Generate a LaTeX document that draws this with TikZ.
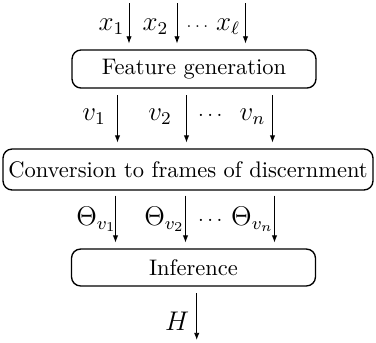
\documentclass[tikz,border=0pt]{standalone}
\usepackage{amsmath}
\usepackage{tikz}
\usetikzlibrary{arrows.meta}

\begin{document}
\begin{tikzpicture}[x=0.4444pt, y=-0.4444pt,
    stage/.style={rectangle, rounded corners=4pt, draw, semithick,
                  minimum width=108.4pt, minimum height=16.9pt,
                  inner sep=2pt, align=center},
    conn/.style={-{Latex[length=3.2pt, width=2.4pt]}, shorten <=3pt, shorten >=2.6pt},
    lbl/.style={anchor=base, inner sep=0pt, font=\fontsize{11.6}{14}\selectfont},
    dots/.style={anchor=base, inner sep=0pt, font=\fontsize{9}{11}\selectfont}]

    \useasboundingbox (0,0) rectangle (376,342);

    % processing stages
    \node[stage] (feat) at (194,69)    {Feature generation};
    \node[stage, minimum width=164.4pt, minimum height=18.2pt]
                 (conv) at (188,169.5) {Conversion to frames of discernment};
    \node[stage, minimum height=16.4pt]
                 (inf)  at (193.5,267.5) {Inference};

    % inputs
    \coordinate (in1) at (129,3);
    \coordinate (in2) at (177,3);
    \coordinate (inl) at (245.5,3);
    \draw[conn, shorten <=0pt] (in1) -- (in1 |- feat.north);
    \draw[conn, shorten <=0pt] (in2) -- (in2 |- feat.north);
    \draw[conn, shorten <=0pt] (inl) -- (inl |- feat.north);
    \node[lbl] (lx1) at (111.5,30) {$x_1$};
    \node[lbl] (lx2) at (155.5,30) {$x_2$};
    \node[dots, font=\fontsize{7.5}{9}\selectfont] (lxd) at (199,30) {$\cdots$};
    \node[lbl] (lxl) at (228,30) {$x_\ell$};

    % features
    \coordinate (v1) at (117.5,0);
    \coordinate (v2) at (186.5,0);
    \coordinate (vn) at (272.5,0);
    \draw[conn] (feat.south -| v1) -- (conv.north -| v1);
    \draw[conn] (feat.south -| v2) -- (conv.north -| v2);
    \draw[conn] (feat.south -| vn) -- (conv.north -| vn);
    \node[lbl] (lv1) at (94,120)    {$v_1$};
    \node[lbl] (lv2) at (160,120)   {$v_2$};
    \node[dots] (lvd) at (212,120)  {$\cdots$};
    \node[lbl] (lvn) at (252.5,120) {$v_n$};

    % frames of discernment
    \coordinate (t1) at (115.5,0);
    \coordinate (t2) at (185.5,0);
    \coordinate (tn) at (274.5,0);
    \draw[conn, shorten <=2.2pt] (conv.south -| t1) -- (inf.north -| t1);
    \draw[conn, shorten <=2.2pt] (conv.south -| t2) -- (inf.north -| t2);
    \draw[conn, shorten <=2.2pt] (conv.south -| tn) -- (inf.north -| tn);
    \node[lbl] (lt1) at (96.5,225)  {$\Theta_{v_1}$};
    \node[lbl] (lt2) at (164.5,225) {$\Theta_{v_2}$};
    \node[dots] (ltd) at (212,225)  {$\cdots$};
    \node[lbl] (ltn) at (252.5,225) {$\Theta_{v_n}$};

    % output
    \coordinate (out) at (196.7,340);
    \draw[conn, shorten >=0pt] (inf.south -| out) -- (out);
    \node[lbl] (lh) at (177,330) {$H$};

\end{tikzpicture}
\end{document}
